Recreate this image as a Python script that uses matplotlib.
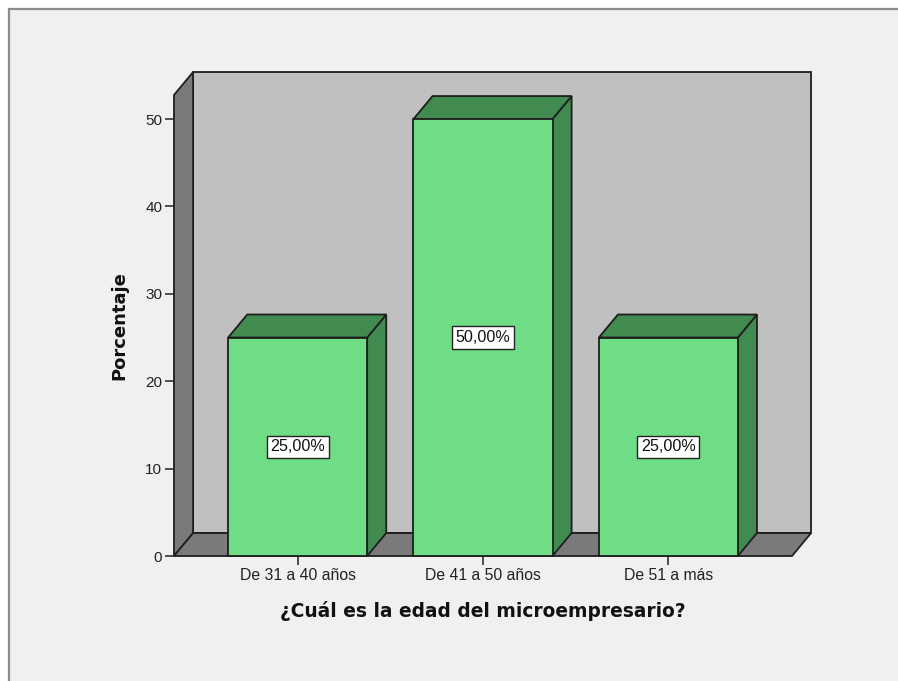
import matplotlib.pyplot as plt
from matplotlib.patches import Polygon, Rectangle

categorias = ["De 31 a 40 años", "De 41 a 50 años", "De 51 a más"]
porcentajes = [25.0, 50.0, 25.0]
etiquetas = ["25,00%", "50,00%", "25,00%"]
yticks = [0, 10, 20, 30, 40, 50]

plt.rcParams['font.family'] = ['Liberation Sans', 'DejaVu Sans']

W, H = 898, 681
fig = plt.figure(figsize=(W / 100, H / 100), dpi=100, facecolor='white')

# marco del gráfico
fig.patches.append(Rectangle((9 / W, -0.1), 1.2, (H - 9) / H + 0.1,
                             transform=fig.transFigure, facecolor='#f0f0f0',
                             edgecolor='#8c8c8c', linewidth=1.6, zorder=-10))

ax = fig.add_axes([174 / W, (H - 556) / H, 618 / W, (556 - 95) / H])
ax.set_facecolor('none')
x0, x1 = -0.667, 2.667
ymax = 52.75
ax.set_xlim(x0, x1)
ax.set_ylim(0, ymax)
for s in ax.spines.values():
    s.set_visible(False)

# profundidad de la perspectiva
dx, dy = 0.103, 2.63
edge = '#1e1e1e'
lw = 1.3

def poly(pts, fc, z):
    ax.add_patch(Polygon(pts, closed=True, facecolor=fc, edgecolor=edge,
                         linewidth=lw, clip_on=False, zorder=z))

# paredes y piso
poly([(x0 + dx, dy), (x1 + dx, dy), (x1 + dx, ymax + dy), (x0 + dx, ymax + dy)], '#c0c0c0', 1)
poly([(x0, 0), (x0 + dx, dy), (x0 + dx, ymax + dy), (x0, ymax)], '#7a7a7a', 2)
poly([(x0, 0), (x1, 0), (x1 + dx, dy), (x0 + dx, dy)], '#7a7a7a', 2)

# barras 3D
w = 0.75
for i, v in enumerate(porcentajes):
    l, r = i - w / 2, i + w / 2
    poly([(r, 0), (r + dx, dy), (r + dx, v + dy), (r, v)], '#418a50', 3)
    poly([(l, v), (r, v), (r + dx, v + dy), (l + dx, v + dy)], '#418a50', 3)
    poly([(l, 0), (r, 0), (r, v), (l, v)], '#6fdc86', 4)
    ax.text(i, v / 2, etiquetas[i], ha='center', va='center', fontsize=11.6,
            color='#111111', zorder=6,
            bbox=dict(boxstyle='square,pad=0.22', facecolor='white',
                      edgecolor='#222222', linewidth=1.0))

ax.set_xticks(range(len(categorias)))
ax.set_xticklabels(categorias, fontsize=11.3, color='#222222')
ax.set_yticks(yticks)
ax.set_yticklabels([str(t) for t in yticks], fontsize=11, color='#222222')
ax.tick_params(axis='both', direction='out', length=6.5, width=1.2, color='#333333', pad=2)

bold = dict(family=['DejaVu Sans'], fontweight='bold', color='#111111')
ax.set_ylabel('Porcentaje', labelpad=12, fontsize=13, **bold)
ax.set_xlabel('¿Cuál es la edad del microempresario?', labelpad=13, fontsize=13.4, **bold)

fig.savefig('out.png', dpi=100, facecolor=fig.get_facecolor())
